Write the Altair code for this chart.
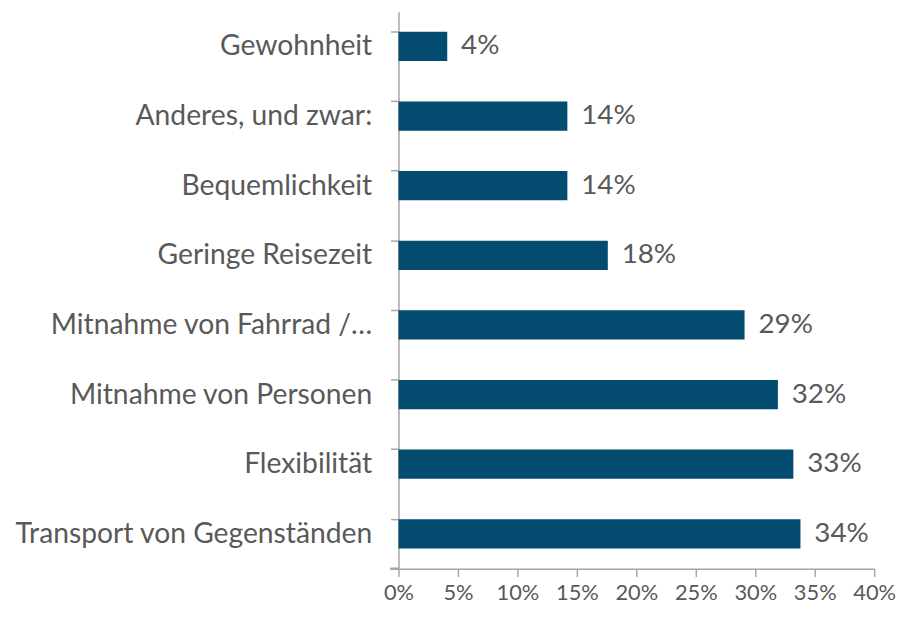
import altair as alt
import pandas as pd

categories = [
    "Gewohnheit",
    "Anderes, und zwar:",
    "Bequemlichkeit",
    "Geringe Reisezeit",
    "Mitnahme von Fahrrad /…",
    "Mitnahme von Personen",
    "Flexibilität",
    "Transport von Gegenständen",
]
values = [4.1, 14.2, 14.2, 17.6, 29.1, 31.9, 33.2, 33.8]
labels = ["4%", "14%", "14%", "18%", "29%", "32%", "33%", "34%"]

df = pd.DataFrame({"cat": categories, "val": values, "lab": labels})

FONT = "Lato"
TXT = "#595959"
AX = "#a6a6a6"
H = 562
W = 480

y_enc = alt.Y(
    "cat:N",
    sort=categories,
    title=None,
    scale=alt.Scale(paddingInner=0.58, paddingOuter=0.29),
    axis=alt.Axis(
        bandPosition=0,
        ticks=True,
        tickSize=8,
        tickColor=AX,
        domainColor=AX,
        domainWidth=1.5,
        tickWidth=1.5,
        labelPadding=19,
        labelFont=FONT,
        labelFontSize=28.5,
        labelColor=TXT,
        labelLimit=400,
    ),
)

x_enc = alt.X(
    "val:Q",
    title=None,
    scale=alt.Scale(domain=[0, 40], nice=False),
    axis=alt.Axis(
        values=[0, 5, 10, 15, 20, 25, 30, 35, 40],
        labelExpr="datum.value + '%'",
        grid=False,
        tickSize=8,
        tickColor=AX,
        domainColor=AX,
        domainWidth=1.5,
        tickWidth=1.5,
        labelPadding=6,
        labelFont=FONT,
        labelFontSize=22,
        labelColor=TXT,
        labelFlush=False,
    ),
)

bars = alt.Chart(df).mark_bar(color="#034b6f").encode(x=x_enc, y=y_enc)

text = alt.Chart(df).mark_text(
    align="left", baseline="middle", dx=14, font=FONT, fontSize=28, color=TXT
).encode(x="val:Q", y=alt.Y("cat:N", sort=categories), text="lab:N")

bottom_tick = alt.Chart(df).mark_rule(color=AX, strokeWidth=1.5).encode(
    x=alt.value(-8), x2=alt.value(0), y=alt.value(H)
)

chart = (
    alt.layer(bars, text, bottom_tick)
    .properties(
        width=W,
        height=H,
        autosize=alt.AutoSizeParams(type="none"),
        padding={"left": 394, "top": 1, "right": 23, "bottom": 40},
    )
    .configure_view(stroke=None)
)

chart.save("out.html", embed_options={"renderer": "svg", "actions": False})
